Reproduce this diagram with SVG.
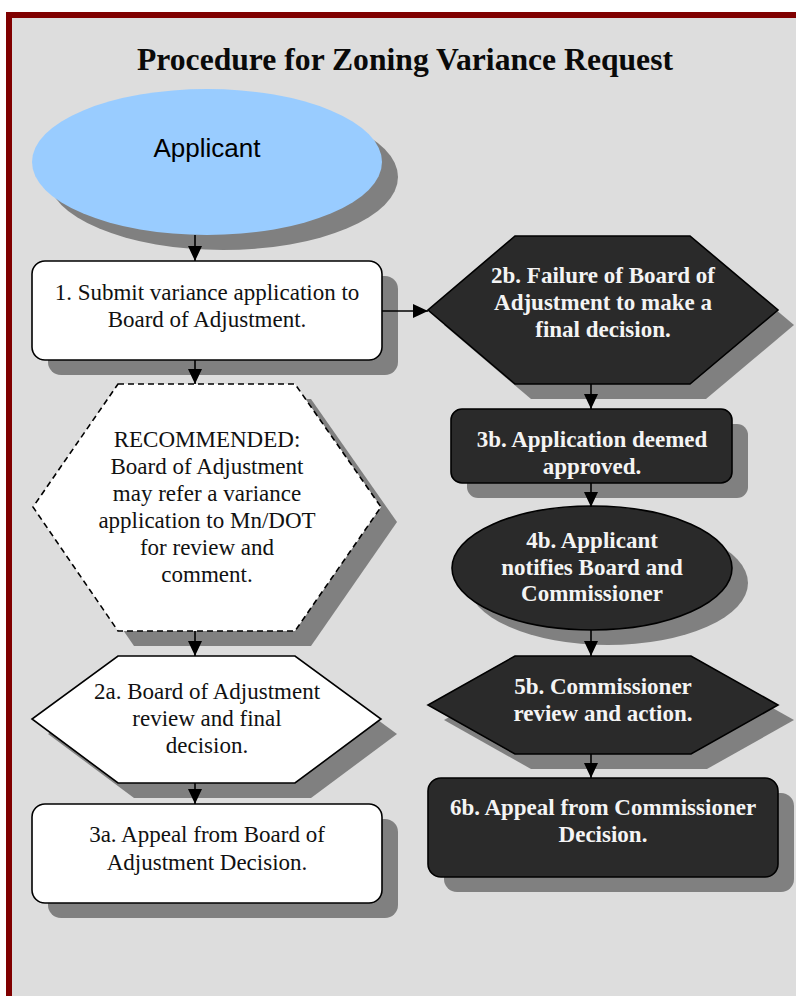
<svg xmlns="http://www.w3.org/2000/svg" width="796" height="996" viewBox="0 0 796 996">
<defs>
<style>
.sh{fill:#808080;stroke:none}
.wb{fill:#ffffff;stroke:#000;stroke-width:1.6}
.db{fill:#2a2a2a;stroke:#000;stroke-width:1.6}
.dash{fill:#ffffff;stroke:#000;stroke-width:1.6;stroke-dasharray:6 4}
.t{font-family:"Liberation Serif","Times New Roman",serif;font-size:23px;fill:#111;text-anchor:middle}
.tw{font-family:"Liberation Serif","Times New Roman",serif;font-size:23px;font-weight:bold;fill:#f4f4f4;text-anchor:middle}
.cn{stroke:#000;stroke-width:1.6;fill:none;marker-end:url(#ah)}
</style>
<marker id="ah" markerUnits="userSpaceOnUse" markerWidth="15" markerHeight="14" refX="15" refY="7" orient="auto">
<path d="M0,0 L15,7 L0,14 z" fill="#000"/>
</marker>
</defs>
<rect x="0" y="0" width="796" height="996" fill="#ffffff"/>
<rect x="6" y="12" width="800" height="990" fill="#800000"/>
<rect x="12" y="18" width="800" height="990" fill="#dddddd"/>
<text x="405" y="70" font-family="Liberation Serif,Times New Roman,serif" font-size="31.5" font-weight="bold" text-anchor="middle" fill="#0a0a0a" textLength="536" lengthAdjust="spacingAndGlyphs">Procedure for Zoning Variance Request</text>

<g id="applicant">
<ellipse class="sh" cx="223" cy="177" rx="175" ry="73"/>
<ellipse cx="207" cy="162" rx="175" ry="73" fill="#99ccff"/>
<text x="207" y="157" font-family="Liberation Sans,Arial,sans-serif" font-size="26" text-anchor="middle" fill="#000">Applicant</text>
</g>

<g id="step1">
<rect class="sh" x="48" y="276" width="350" height="99" rx="13"/>
<rect class="wb" x="32" y="261" width="350" height="99" rx="13"/>
<text class="t" x="207" y="300">1. Submit variance application to</text>
<text class="t" x="207" y="327">Board of Adjustment.</text>
</g>

<g id="recommended">
<polygon class="sh" points="134,399 311,399 397,522 311,646 134,646 49,522"/>
<polygon class="dash" points="118,384 295,384 381,507 295,631 118,631 33,507"/>
<text class="t" x="207" y="447">RECOMMENDED:</text>
<text class="t" x="207" y="474">Board of Adjustment</text>
<text class="t" x="207" y="501">may refer a variance</text>
<text class="t" x="207" y="528">application to Mn/DOT</text>
<text class="t" x="207" y="555">for review and</text>
<text class="t" x="207" y="582">comment.</text>
</g>

<g id="step2a">
<polygon class="sh" points="134,671 311,671 397,734 311,798 134,798 48,734"/>
<polygon class="wb" points="118,656 295,656 381,719 295,783 118,783 32,719"/>
<text class="t" x="207" y="699">2a. Board of Adjustment</text>
<text class="t" x="207" y="726">review and final</text>
<text class="t" x="207" y="753">decision.</text>
</g>

<g id="step3a">
<rect class="sh" x="48" y="819" width="350" height="99" rx="13"/>
<rect class="wb" x="32" y="804" width="350" height="99" rx="13"/>
<text class="t" x="207" y="842">3a. Appeal from Board of</text>
<text class="t" x="207" y="870">Adjustment Decision.</text>
</g>

<g id="step2b">
<polygon class="sh" points="531,251 706,251 794,325 706,399 531,399 444,325"/>
<polygon class="db" points="515,236 690,236 778,310 690,384 515,384 428,310"/>
<text class="tw" x="603" y="283">2b. Failure of Board of</text>
<text class="tw" x="603" y="310">Adjustment to make a</text>
<text class="tw" x="603" y="337">final decision.</text>
</g>

<g id="step3b">
<rect class="sh" x="467" y="424" width="281" height="74" rx="11"/>
<rect class="db" x="451" y="409" width="281" height="74" rx="11"/>
<text class="tw" x="592" y="447">3b. Application deemed</text>
<text class="tw" x="592" y="474">approved.</text>
</g>

<g id="step4b">
<ellipse class="sh" cx="608" cy="583" rx="140" ry="62"/>
<ellipse class="db" cx="592" cy="568" rx="140" ry="62"/>
<text class="tw" x="592" y="548">4b. Applicant</text>
<text class="tw" x="592" y="575">notifies Board and</text>
<text class="tw" x="592" y="601">Commissioner</text>
</g>

<g id="step5b">
<polygon class="sh" points="531,671 707,671 794,720 707,769 531,769 444,720"/>
<polygon class="db" points="515,656 691,656 778,705 691,754 515,754 428,705"/>
<text class="tw" x="603" y="694">5b. Commissioner</text>
<text class="tw" x="603" y="721">review and action.</text>
</g>

<g id="step6b">
<rect class="sh" x="444" y="793" width="350" height="99" rx="13"/>
<rect class="db" x="428" y="778" width="350" height="99" rx="13"/>
<text class="tw" x="603" y="815">6b. Appeal from Commissioner</text>
<text class="tw" x="603" y="842">Decision.</text>
</g>

<g id="connectors">
<line class="cn" x1="195" y1="235" x2="195" y2="261"/>
<line class="cn" x1="195" y1="360" x2="195" y2="384"/>
<line class="cn" x1="195" y1="631" x2="195" y2="656"/>
<line class="cn" x1="195" y1="783" x2="195" y2="804"/>
<line class="cn" x1="382" y1="311" x2="428" y2="311"/>
<line class="cn" x1="591" y1="384" x2="591" y2="409"/>
<line class="cn" x1="591" y1="483" x2="591" y2="507"/>
<line class="cn" x1="591" y1="630" x2="591" y2="656"/>
<line class="cn" x1="591" y1="754" x2="591" y2="778"/>
</g>
</svg>
